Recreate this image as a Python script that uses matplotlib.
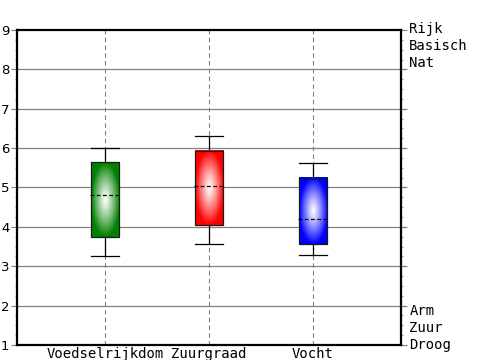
import numpy as np
import matplotlib
matplotlib.use("Agg")
import matplotlib.pyplot as plt
from matplotlib.colors import to_rgb
from matplotlib.ticker import MultipleLocator

categories = ["Voedselrijkdom", "Zuurgraad", "Vocht"]
colors = ["#008000", "#ff0000", "#0000ff"]
whisker_low = [3.25, 3.56, 3.28]
box_low = [3.75, 4.04, 3.56]
mean_vals = [4.80, 5.03, 4.19]
box_high = [5.64, 5.92, 5.24]
whisker_high = [6.00, 6.30, 5.61]
top_labels = ["Rijk", "Basisch", "Nat"]
bottom_labels = ["Arm", "Zuur", "Droog"]

fig = plt.figure(figsize=(5, 3.6), dpi=100)
ax = fig.add_axes([0.034, 0.0417, 0.768, 0.875])

ax.set_xlim(0.154, 3.846)
ax.set_ylim(1, 9)

# grid
for yv in range(2, 9):
    ax.axhline(yv, color="#808080", lw=0.9, zorder=1, clip_on=False, xmax=1.01)
xs = np.arange(1, len(categories) + 1)
for x in xs:
    ax.axvline(x, color="#808080", lw=0.8, ls=(0, (4, 3)), zorder=1)

w = 0.27
ny, nx = 120, 60
gx = np.linspace(-1, 1, nx)
gy = np.linspace(-1, 1, ny)
GX, GY = np.meshgrid(gx, gy)
R = np.clip(np.sqrt(GX ** 2 + GY ** 2), 0, 1)

for i, x in enumerate(xs):
    # whiskers
    ax.plot([x, x], [whisker_low[i], box_low[i]], color="black", lw=0.9, zorder=3)
    ax.plot([x, x], [box_high[i], whisker_high[i]], color="black", lw=0.9, zorder=3)
    ax.plot([x - w / 2, x + w / 2], [whisker_low[i]] * 2, color="black", lw=0.9, zorder=3)
    ax.plot([x - w / 2, x + w / 2], [whisker_high[i]] * 2, color="black", lw=0.9, zorder=3)
    # gradient box
    c = np.array(to_rgb(colors[i]))
    t = R[..., None] ** 1.15
    img = (1 - t) * np.ones(3) + t * c
    ax.imshow(img, extent=[x - w / 2, x + w / 2, box_low[i], box_high[i]],
              aspect="auto", zorder=3, interpolation="bilinear")
    ax.add_patch(plt.Rectangle((x - w / 2, box_low[i]), w, box_high[i] - box_low[i],
                               fill=False, ec="#1a1a1a", lw=0.9, zorder=4))
    ax.plot([x - w / 2 - 0.01, x + w / 2 - 0.01], [mean_vals[i]] * 2, color="black",
            lw=0.9, ls=(0, (3, 2)), zorder=5)

ax.set_xlim(0.154, 3.846)
ax.set_ylim(1, 9)

for s in ax.spines.values():
    s.set_linewidth(1.6)
    s.set_zorder(6)

ax.set_xticks(xs)
ax.set_xticklabels(categories, family="DejaVu Sans Mono", fontsize=10)
ax.tick_params(axis="x", length=0, pad=1.5)
ax.yaxis.set_major_locator(MultipleLocator(1))
ax.yaxis.set_minor_locator(MultipleLocator(0.25))
ax.tick_params(axis="y", which="major", length=4, width=0.8, labelsize=9.5, pad=1.5,
               right=True, direction="out", color="#808080")
ax.tick_params(axis="y", which="minor", length=1.2, width=0.8, right=True,
               direction="out", color="#999999")

for k, lab in enumerate(top_labels):
    ax.annotate(lab, xy=(1, 1), xycoords="axes fraction", xytext=(6, 1 - k * 12.3),
                textcoords="offset points", ha="left", va="center",
                family="DejaVu Sans Mono", fontsize=10)
for k, lab in enumerate(bottom_labels):
    ax.annotate(lab, xy=(1, 0), xycoords="axes fraction",
                xytext=(6, (len(bottom_labels) - 1 - k) * 12.3),
                textcoords="offset points", ha="left", va="center",
                family="DejaVu Sans Mono", fontsize=10)

fig.savefig("out.png", dpi=100)
